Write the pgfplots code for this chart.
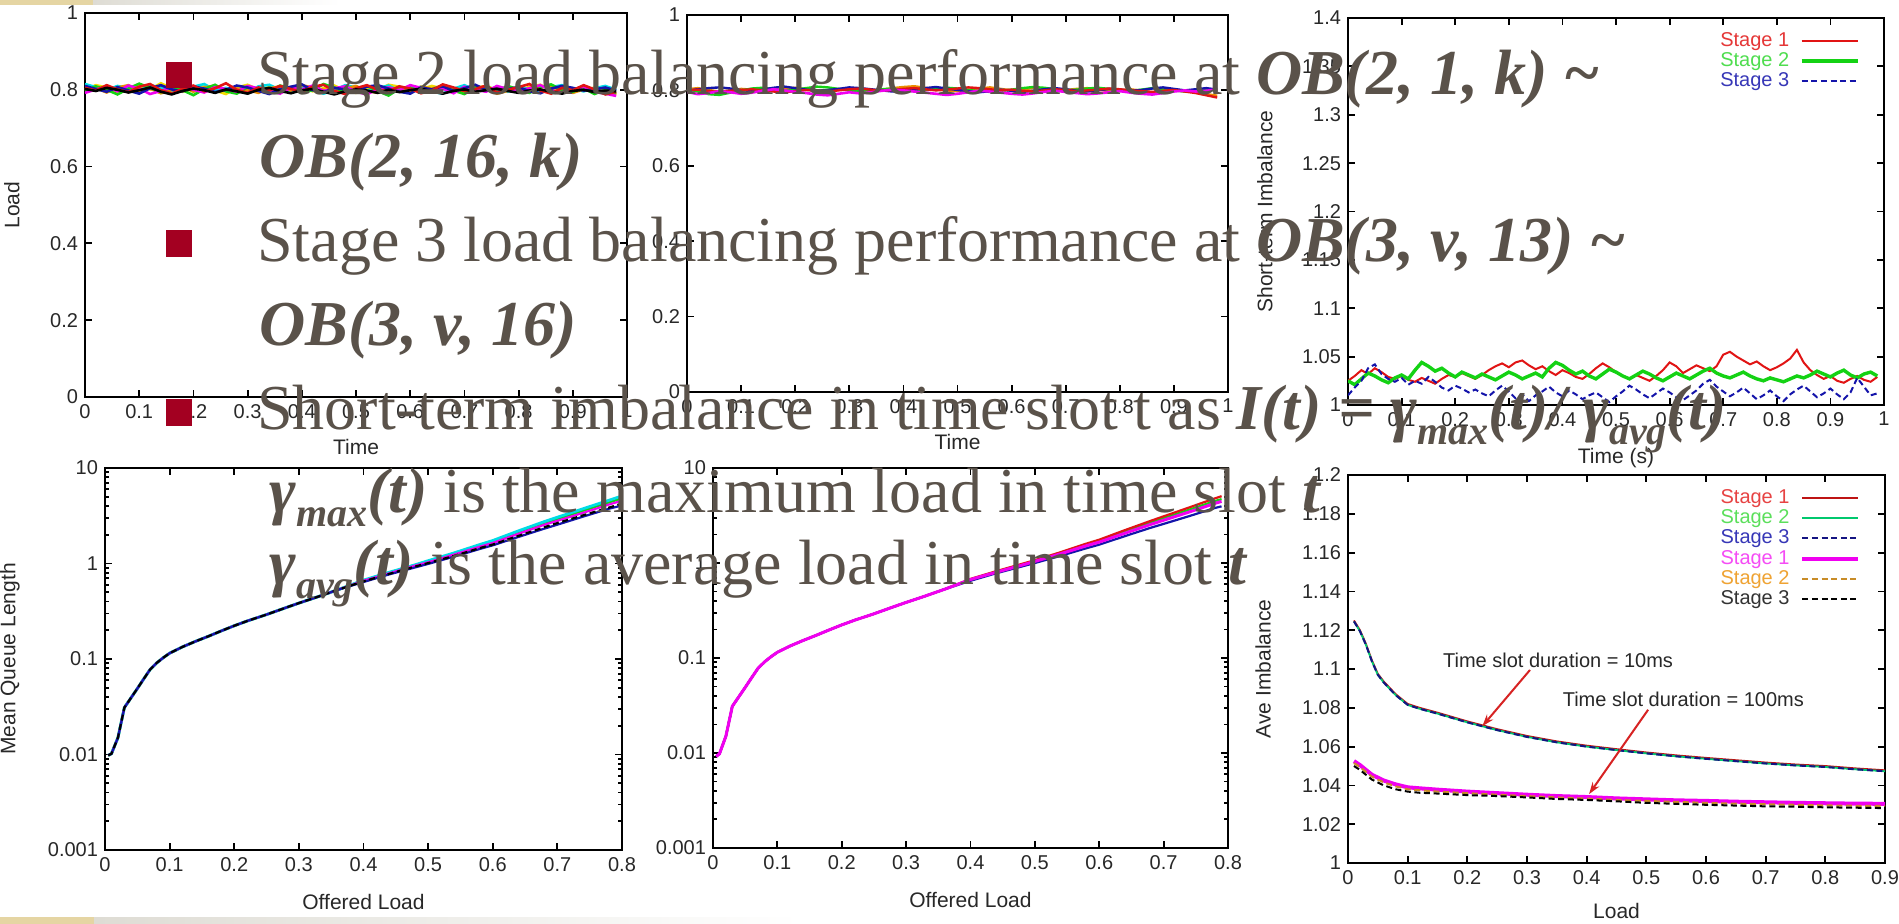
\documentclass[border=0pt]{standalone}
\usepackage{fontspec}
\setmainfont{Liberation Serif}
\setsansfont{Liberation Sans}
\usepackage{pgfplots}
\usepackage{pgfplotstable}
\pgfplotsset{compat=1.18}
\usetikzlibrary{arrows.meta}

\definecolor{txt}{RGB}{90,82,74}
\definecolor{bul}{RGB}{163,0,33}
\definecolor{beige}{RGB}{229,213,163}
\definecolor{gstrip}{RGB}{222,220,212}
\definecolor{tk}{RGB}{40,40,40}
\definecolor{gpred}{RGB}{225,20,20}
\definecolor{gpgreen}{RGB}{20,210,20}
\definecolor{gpblue}{RGB}{20,20,170}
\definecolor{gpmag}{RGB}{240,0,240}
\definecolor{gpcyan}{RGB}{0,220,230}
\definecolor{gpyellow}{RGB}{240,220,0}
\definecolor{gporange}{RGB}{235,140,0}
\definecolor{gpdred}{RGB}{190,20,20}
\definecolor{gpteal}{RGB}{0,200,110}
\definecolor{gpnavy}{RGB}{20,20,130}
\definecolor{gpbrown}{RGB}{200,140,40}
\definecolor{annred}{RGB}{215,35,35}

\newcommand\slide{\fontsize{32}{38}\selectfont}
\newcommand\sub[1]{\raisebox{-7pt}{\fontsize{20}{20}\selectfont #1}}

\pgfplotsset{
  gp/.style={scale only axis, anchor=north west, no markers,
    axis line style={line width=1pt},
    tick style={line width=0.9pt, black},
    major tick length=3.6pt, minor tick length=2pt, tick align=inside,
    tick label style={font=\sffamily\fontsize{10}{12}\selectfont, text=tk},
    label style={font=\sffamily\fontsize{10.5}{12}\selectfont, text=tk},
    /pgf/number format/assume math mode=true},
  gpleg/.style={legend plot pos=right, legend cell align=right,
    legend style={draw=none, fill=none, at={(0.966,0.977)}, anchor=north east,
      font=\sffamily\fontsize{10}{10}\selectfont, row sep=0.9pt, nodes={inner sep=0.4pt}},
    legend image code/.code={\path (0pt,0pt); \draw[##1] (5pt,0pt) -- (33pt,0pt);}},
}

% stage 2 load over time, several middle-stage ports
\pgfplotstableread{
x r g b m c y k o
0.00 .805 .797 .810 .792 .815 .800 .802 .796
0.02 .798 .809 .802 .801 .807 .812 .797 .804
0.04 .812 .800 .795 .808 .799 .806 .805 .793
0.06 .801 .788 .807 .796 .810 .794 .800 .806
0.08 .794 .803 .798 .811 .804 .799 .793 .812
0.10 .808 .816 .790 .803 .797 .809 .799 .798
0.12 .815 .805 .804 .789 .812 .801 .806 .803
0.14 .799 .794 .812 .797 .806 .817 .795 .791
0.16 .790 .808 .801 .806 .793 .804 .788 .799
0.18 .803 .799 .796 .814 .801 .795 .797 .808
0.20 .811 .786 .809 .800 .808 .803 .803 .795
0.22 .796 .802 .803 .793 .815 .810 .799 .806
0.24 .804 .813 .794 .807 .799 .798 .792 .811
0.26 .817 .796 .800 .802 .805 .789 .801 .797
0.28 .800 .790 .811 .795 .797 .806 .796 .803
0.30 .792 .807 .806 .810 .791 .813 .790 .799
0.32 .806 .801 .797 .804 .809 .801 .800 .792
0.34 .799 .795 .789 .798 .813 .807 .805 .804
0.36 .810 .811 .802 .790 .800 .795 .797 .809
0.38 .802 .804 .808 .806 .796 .800 .791 .798
0.40 .795 .792 .814 .801 .807 .808 .799 .812
0.42 .808 .799 .799 .811 .802 .796 .802 .806
0.44 .813 .815 .793 .797 .790 .804 .795 .800
0.46 .797 .806 .805 .804 .799 .811 .788 .795
0.48 .789 .793 .801 .809 .812 .798 .796 .803
0.50 .804 .801 .796 .795 .806 .792 .801 .810
0.52 .812 .810 .808 .788 .798 .805 .798 .797
0.54 .800 .797 .812 .802 .804 .800 .792 .792
0.56 .796 .785 .803 .806 .811 .813 .800 .806
0.58 .809 .803 .795 .799 .797 .808 .794 .801
0.60 .803 .808 .790 .812 .801 .795 .799 .796
0.62 .791 .794 .806 .805 .808 .802 .803 .808
0.64 .798 .800 .801 .796 .795 .810 .796 .803
0.66 .814 .812 .809 .803 .790 .803 .790 .811
0.68 .806 .798 .797 .791 .803 .797 .797 .799
0.70 .797 .789 .804 .808 .812 .791 .801 .795
0.72 .802 .806 .813 .800 .799 .805 .795 .807
0.74 .811 .803 .800 .795 .806 .810 .799 .802
0.76 .793 .796 .794 .810 .802 .799 .803 .790
0.78 .800 .810 .802 .802 .795 .803 .797 .797
0.80 .807 .801 .807 .797 .809 .796 .792 .804
0.82 .815 .792 .796 .804 .801 .808 .798 .800
0.84 .798 .807 .791 .812 .794 .813 .801 .806
0.86 .790 .814 .803 .799 .807 .800 .795 .811
0.88 .805 .799 .810 .793 .812 .795 .790 .798
0.90 .799 .795 .805 .801 .803 .802 .797 .792
0.92 .812 .804 .798 .808 .796 .797 .800 .801
0.94 .801 .789 .801 .795 .804 .806 .794 .796
0.96 .788 .800 .806 .790 .810 .799 .798 .803
0.98 .795 .792 .798 .784 .800 .805 .796 .787
}\tLoadA

% stage 3 load over time
\pgfplotstableread{
x r g b m o
0.00 .800 .801 .799 .796 .803
0.02 .802 .797 .803 .790 .806
0.04 .798 .790 .806 .793 .801
0.06 .796 .788 .808 .798 .797
0.08 .799 .794 .805 .795 .800
0.10 .801 .800 .801 .791 .804
0.12 .803 .805 .798 .794 .802
0.14 .800 .807 .802 .799 .798
0.16 .797 .803 .807 .803 .801
0.18 .795 .799 .810 .800 .804
0.20 .798 .802 .806 .796 .807
0.22 .801 .806 .802 .793 .803
0.24 .799 .810 .799 .789 .800
0.26 .797 .808 .801 .787 .797
0.28 .800 .804 .804 .791 .802
0.30 .803 .800 .808 .795 .805
0.32 .805 .797 .806 .792 .803
0.34 .802 .799 .803 .795 .799
0.36 .799 .803 .800 .799 .802
0.38 .801 .805 .797 .802 .806
0.40 .804 .801 .799 .800 .809
0.42 .806 .798 .802 .797 .811
0.44 .803 .800 .806 .794 .807
0.46 .800 .804 .809 .791 .803
0.48 .802 .807 .805 .788 .800
0.50 .805 .805 .801 .791 .798
0.52 .808 .801 .798 .795 .802
0.54 .806 .798 .795 .799 .805
0.56 .803 .796 .798 .797 .808
0.58 .800 .799 .802 .794 .804
0.60 .802 .802 .799 .791 .800
0.62 .799 .806 .796 .789 .803
0.64 .797 .809 .799 .792 .806
0.66 .800 .807 .803 .796 .803
0.68 .803 .803 .806 .799 .799
0.70 .801 .800 .803 .796 .801
0.72 .798 .802 .799 .793 .804
0.74 .800 .805 .797 .790 .806
0.76 .802 .807 .800 .792 .802
0.78 .805 .804 .804 .795 .798
0.80 .803 .801 .802 .798 .800
0.82 .800 .799 .799 .794 .803
0.84 .798 .802 .801 .791 .799
0.86 .796 .806 .805 .789 .795
0.88 .799 .804 .808 .793 .798
0.90 .801 .800 .804 .797 .802
0.92 .797 .797 .800 .800 .799
0.94 .793 .799 .803 .797 .795
0.96 .787 .801 .806 .799 .790
0.98 .781 .800 .802 .803 .786
}\tLoadB

% short-term imbalance per stage
\pgfplotstableread{
x s1 s2 s3
0 1.025 1.025 1.010
.0125 1.030 1.021 1.018
.025 1.036 1.027 1.025
.0375 1.032 1.033 1.038
.05 1.038 1.030 1.042
.0625 1.034 1.026 1.032
.075 1.029 1.023 1.027
.0875 1.027 1.028 1.024
.1 1.030 1.031 1.028
.1125 1.026 1.027 1.021
.125 1.024 1.036 1.025
.1375 1.028 1.044 1.022
.15 1.025 1.040 1.029
.1625 1.022 1.035 1.024
.175 1.027 1.038 1.018
.1875 1.031 1.033 1.015
.2 1.029 1.029 1.020
.2125 1.033 1.034 1.017
.225 1.030 1.031 1.013
.2375 1.027 1.028 1.016
.25 1.031 1.032 1.012
.2625 1.036 1.029 1.009
.275 1.040 1.026 1.015
.2875 1.043 1.030 1.020
.3 1.039 1.034 1.014
.3125 1.044 1.031 1.007
.325 1.046 1.027 1.011
.3375 1.041 1.030 1.004
.35 1.037 1.033 1.010
.3625 1.040 1.029 1.014
.375 1.035 1.038 1.019
.3875 1.031 1.044 1.013
.4 1.036 1.041 1.009
.4125 1.033 1.036 1.015
.425 1.029 1.032 1.011
.4375 1.027 1.035 1.006
.45 1.032 1.030 1.010
.4625 1.038 1.027 1.013
.475 1.043 1.032 1.008
.4875 1.039 1.037 1.003
.5 1.034 1.034 1.009
.5125 1.030 1.030 1.014
.525 1.027 1.027 1.020
.5375 1.031 1.031 1.016
.55 1.028 1.035 1.011
.5625 1.025 1.032 1.007
.575 1.030 1.028 1.012
.5875 1.036 1.025 1.017
.6 1.044 1.029 1.013
.6125 1.040 1.033 1.008
.625 1.033 1.030 1.005
.6375 1.037 1.027 1.010
.65 1.041 1.031 1.015
.6625 1.038 1.035 1.022
.675 1.035 1.038 1.026
.6875 1.040 1.033 1.019
.7 1.052 1.030 1.014
.7125 1.055 1.028 1.009
.725 1.050 1.031 1.013
.7375 1.046 1.034 1.018
.75 1.042 1.030 1.012
.7625 1.045 1.027 1.006
.775 1.040 1.025 1.010
.7875 1.036 1.028 1.015
.8 1.039 1.026 1.009
.8125 1.043 1.024 1.004
.825 1.048 1.027 1.011
.8375 1.057 1.030 1.016
.85 1.044 1.028 1.020
.8625 1.036 1.031 1.014
.875 1.031 1.035 1.008
.8875 1.027 1.032 1.012
.9 1.030 1.029 1.017
.9125 1.025 1.033 1.011
.925 1.023 1.036 1.006
.9375 1.027 1.031 1.013
.95 1.030 1.028 1.028
.9625 1.026 1.032 1.019
.975 1.024 1.034 1.010
.9875 1.029 1.030 1.012
}\tShort

% mean queue length, stage 2
\pgfplotstableread{
x bk cy gr bl rd
0.005 0.0098 0.0098 0.0098 0.0098 0.0098
0.01 0.0102 0.0102 0.0102 0.0102 0.0102
0.02 0.0150 0.0150 0.0150 0.0150 0.0150
0.03 0.031 0.031 0.031 0.031 0.031
0.04 0.039 0.039 0.039 0.039 0.039
0.05 0.049 0.049 0.049 0.049 0.049
0.06 0.062 0.062 0.062 0.062 0.062
0.07 0.078 0.078 0.078 0.078 0.078
0.08 0.091 0.091 0.091 0.091 0.091
0.09 0.103 0.103 0.103 0.103 0.103
0.10 0.115 0.115 0.115 0.115 0.115
0.12 0.134 0.134 0.134 0.134 0.134
0.14 0.153 0.153 0.153 0.153 0.153
0.16 0.173 0.173 0.173 0.173 0.173
0.18 0.197 0.197 0.197 0.197 0.197
0.20 0.223 0.223 0.223 0.223 0.223
0.22 0.250 0.250 0.250 0.250 0.250
0.25 0.292 0.292 0.292 0.292 0.292
0.28 0.345 0.345 0.345 0.345 0.345
0.30 0.385 0.385 0.385 0.385 0.385
0.33 0.45 0.45 0.45 0.45 0.45
0.36 0.53 0.53 0.53 0.53 0.53
0.40 0.65 0.67 0.66 0.64 0.66
0.44 0.78 0.81 0.80 0.77 0.79
0.48 0.93 0.97 0.96 0.91 0.95
0.50 1.01 1.07 1.05 0.99 1.03
0.54 1.20 1.29 1.27 1.18 1.24
0.58 1.45 1.58 1.55 1.42 1.50
0.60 1.58 1.74 1.70 1.55 1.64
0.64 1.95 2.20 2.12 1.90 2.05
0.68 2.40 2.75 2.65 2.32 2.55
0.70 2.65 3.05 2.95 2.55 2.80
0.74 3.20 3.75 3.60 3.10 3.40
0.78 3.85 4.60 4.40 3.75 4.15
0.80 4.25 5.10 4.85 4.05 4.55
}\tQueueA

% mean queue length, stage 3
\pgfplotstableread{
x rd mg bl gr
0.005 0.0092 0.0092 0.0092 0.0092
0.01 0.0098 0.0098 0.0098 0.0098
0.02 0.0150 0.0150 0.0150 0.0150
0.03 0.031 0.031 0.031 0.031
0.04 0.039 0.039 0.039 0.039
0.05 0.049 0.049 0.049 0.049
0.06 0.062 0.062 0.062 0.062
0.07 0.078 0.078 0.078 0.078
0.08 0.091 0.091 0.091 0.091
0.09 0.103 0.103 0.103 0.103
0.10 0.115 0.115 0.115 0.115
0.12 0.134 0.134 0.134 0.134
0.14 0.153 0.153 0.153 0.153
0.16 0.173 0.173 0.173 0.173
0.18 0.197 0.197 0.197 0.197
0.20 0.223 0.223 0.223 0.223
0.22 0.250 0.250 0.250 0.250
0.25 0.292 0.292 0.292 0.292
0.28 0.345 0.345 0.345 0.345
0.30 0.385 0.385 0.385 0.385
0.33 0.45 0.45 0.45 0.45
0.36 0.53 0.53 0.53 0.53
0.40 0.68 0.67 0.65 0.67
0.44 0.82 0.80 0.78 0.81
0.48 0.98 0.95 0.92 0.96
0.50 1.07 1.04 1.00 1.05
0.54 1.30 1.25 1.19 1.27
0.58 1.60 1.52 1.43 1.56
0.60 1.76 1.66 1.56 1.71
0.64 2.22 2.06 1.92 2.14
0.68 2.78 2.55 2.35 2.66
0.70 3.10 2.82 2.58 2.96
0.74 3.85 3.45 3.12 3.65
0.78 4.80 4.25 3.80 4.50
0.79 5.05 4.45 3.95 4.70
}\tQueueB

% average imbalance, 10 ms (a) and 100 ms (b) slots
\pgfplotstableread{
x ar ag ab bm bo bk
0.01 1.1250 1.1245 1.1245 1.0525 1.0515 1.0500
0.02 1.1200 1.1195 1.1195 1.0505 1.0495 1.0480
0.03 1.1130 1.1125 1.1125 1.0480 1.0470 1.0455
0.04 1.1045 1.1040 1.1040 1.0455 1.0445 1.0430
0.05 1.0975 1.0970 1.0970 1.0440 1.0430 1.0415
0.06 1.0935 1.0930 1.0930 1.0425 1.0415 1.0400
0.08 1.0870 1.0865 1.0865 1.0405 1.0395 1.0380
0.10 1.0820 1.0815 1.0815 1.0390 1.0380 1.0368
0.12 1.0800 1.0795 1.0795 1.0385 1.0375 1.0362
0.15 1.0775 1.0770 1.0770 1.0378 1.0368 1.0358
0.20 1.0730 1.0725 1.0725 1.0368 1.0360 1.0350
0.25 1.0690 1.0685 1.0685 1.0360 1.0352 1.0345
0.30 1.0655 1.0650 1.0650 1.0352 1.0345 1.0338
0.35 1.0627 1.0622 1.0622 1.0345 1.0338 1.0330
0.40 1.0605 1.0600 1.0600 1.0340 1.0332 1.0325
0.45 1.0587 1.0582 1.0582 1.0333 1.0325 1.0318
0.50 1.0570 1.0565 1.0565 1.0328 1.0320 1.0310
0.55 1.0555 1.0550 1.0550 1.0323 1.0315 1.0305
0.60 1.0542 1.0537 1.0537 1.0320 1.0310 1.0300
0.65 1.0530 1.0525 1.0525 1.0316 1.0306 1.0296
0.70 1.0518 1.0513 1.0513 1.0313 1.0303 1.0292
0.75 1.0508 1.0503 1.0503 1.0310 1.0300 1.0290
0.80 1.0500 1.0495 1.0495 1.0308 1.0297 1.0287
0.85 1.0488 1.0483 1.0483 1.0306 1.0295 1.0285
0.90 1.0478 1.0473 1.0473 1.0305 1.0294 1.0283
}\tAve

\begin{document}
\begin{tikzpicture}
\useasboundingbox (0,0) rectangle (949.5pt,-462pt);
\fill[white] (0,0) rectangle (949.5pt,-462pt);
% slide decoration strips
\fill[beige] (0,0) rectangle (46.5pt,-2.5pt);
\shade[left color=gstrip, right color=white] (46.5pt,0) rectangle (170pt,-2.5pt);
\fill[beige] (0,-458.5pt) rectangle (47pt,-462pt);
\shade[left color=gstrip, right color=white] (47pt,-458.5pt) rectangle (400pt,-462pt);

% top left: stage 2 load
\begin{axis}[gp, at={(42.5pt,-6.5pt)}, width=271pt, height=192pt,
  xmin=0, xmax=1, ymin=0, ymax=1,
  xtick={0,0.1,0.2,0.3,0.4,0.5,0.6,0.7,0.8,0.9,1}, ytick={0,0.2,0.4,0.6,0.8,1},
  xlabel={Time}, ylabel={Load},
  xlabel style={at={(axis description cs:0.5,-0.13)}, anchor=center},
  ylabel style={at={(axis description cs:-0.135,0.5)}, anchor=center}]
\addplot[gpyellow, line width=1.3pt] table[x=x, y=y] {\tLoadA};
\addplot[gpcyan, line width=1.3pt] table[x=x, y=c] {\tLoadA};
\addplot[gporange, line width=1.3pt] table[x=x, y=o] {\tLoadA};
\addplot[gpgreen, line width=1.3pt] table[x=x, y=g] {\tLoadA};
\addplot[gpmag, line width=1.3pt] table[x=x, y=m] {\tLoadA};
\addplot[gpblue, line width=1.3pt] table[x=x, y=b] {\tLoadA};
\addplot[gpred, line width=1.3pt] table[x=x, y=r] {\tLoadA};
\addplot[black, line width=1.3pt] table[x=x, y=k] {\tLoadA};
\end{axis}

% top middle: stage 3 load
\begin{axis}[gp, at={(343.5pt,-7.5pt)}, width=270.5pt, height=188.5pt,
  xmin=0, xmax=1, ymin=0, ymax=1,
  xtick={0,0.1,0.2,0.3,0.4,0.5,0.6,0.7,0.8,0.9,1}, ytick={0,0.2,0.4,0.6,0.8,1},
  xlabel={Time},
  xlabel style={at={(axis description cs:0.5,-0.133)}, anchor=center}]
\addplot[gporange, line width=1.2pt] table[x=x, y=o] {\tLoadB};
\addplot[gpgreen, line width=1.2pt] table[x=x, y=g] {\tLoadB};
\addplot[gpblue, line width=1.2pt] table[x=x, y=b] {\tLoadB};
\addplot[gpred, line width=1.2pt] table[x=x, y=r] {\tLoadB};
\addplot[gpmag, line width=1.3pt] table[x=x, y=m] {\tLoadB};
\end{axis}

% top right: short-term imbalance
\begin{axis}[gp, gpleg, at={(674pt,-9pt)}, width=268pt, height=193.5pt,
  xmin=0, xmax=1, ymin=1, ymax=1.4,
  xtick={0,0.1,0.2,0.3,0.4,0.5,0.6,0.7,0.8,0.9,1},
  ytick={1,1.05,1.1,1.15,1.2,1.25,1.3,1.35,1.4},
  xlabel={Time (s)}, ylabel={Short-term Imbalance},
  xlabel style={at={(axis description cs:0.5,-0.137)}, anchor=center},
  ylabel style={at={(axis description cs:-0.155,0.5)}, anchor=center}]
\addplot[gpred, line width=1pt] table[x=x, y=s1] {\tShort};
\addlegendentry{\textcolor{gpred!85}{Stage 1}}
\addplot[gpgreen, line width=1.7pt] table[x=x, y=s2] {\tShort};
\addlegendentry{\textcolor{gpgreen!75}{Stage 2}}
\addplot[gpblue, line width=1pt, dash pattern=on 3pt off 1.8pt] table[x=x, y=s3] {\tShort};
\addlegendentry{\textcolor{gpblue!85}{Stage 3}}
\end{axis}

% bottom left: mean queue length, stage 2
\begin{axis}[gp, at={(52.5pt,-234pt)}, width=258.5pt, height=191pt,
  xmin=0, xmax=0.8, ymode=log, ymin=0.001, ymax=10,
  xtick={0,0.1,0.2,0.3,0.4,0.5,0.6,0.7,0.8},
  ytick={0.001,0.01,0.1,1,10}, yticklabels={0.001,0.01,0.1,1,10},
  minor ytick={0.002,0.003,0.004,0.005,0.006,0.007,0.008,0.009,
    0.02,0.03,0.04,0.05,0.06,0.07,0.08,0.09,0.2,0.3,0.4,0.5,0.6,0.7,0.8,0.9,
    2,3,4,5,6,7,8,9},
  xlabel={Offered Load}, ylabel={Mean Queue Length},
  xlabel style={at={(axis description cs:0.5,-0.136)}, anchor=center},
  ylabel style={at={(axis description cs:-0.184,0.5)}, anchor=center}]
\addplot[gpgreen, line width=1.4pt] table[x=x, y=gr] {\tQueueA};
\addplot[gpcyan, line width=1.4pt] table[x=x, y=cy] {\tQueueA};
\addplot[gpmag, line width=1.1pt] table[x=x, y=rd] {\tQueueA};
\addplot[gpblue, line width=1.1pt] table[x=x, y=bl] {\tQueueA};
\addplot[black, line width=1.1pt, dash pattern=on 3pt off 1.8pt] table[x=x, y=bk] {\tQueueA};
\end{axis}

% bottom middle: mean queue length, stage 3
\begin{axis}[gp, at={(356.5pt,-234pt)}, width=257.5pt, height=190pt,
  xmin=0, xmax=0.8, ymode=log, ymin=0.001, ymax=10,
  xtick={0,0.1,0.2,0.3,0.4,0.5,0.6,0.7,0.8},
  ytick={0.001,0.01,0.1,1,10}, yticklabels={0.001,0.01,0.1,1,10},
  minor ytick={0.002,0.003,0.004,0.005,0.006,0.007,0.008,0.009,
    0.02,0.03,0.04,0.05,0.06,0.07,0.08,0.09,0.2,0.3,0.4,0.5,0.6,0.7,0.8,0.9,
    2,3,4,5,6,7,8,9},
  xlabel={Offered Load},
  xlabel style={at={(axis description cs:0.5,-0.137)}, anchor=center}]
\addplot[gpgreen, line width=1.1pt] table[x=x, y=gr] {\tQueueB};
\addplot[gpred, line width=1.1pt] table[x=x, y=rd] {\tQueueB};
\addplot[gpblue, line width=1.1pt] table[x=x, y=bl] {\tQueueB};
\addplot[gpmag, line width=1.5pt] table[x=x, y=mg] {\tQueueB};
\end{axis}

% bottom right: average imbalance
\begin{axis}[gp, gpleg, at={(674pt,-237.5pt)}, width=268.5pt, height=194pt,
  xmin=0, xmax=0.9, ymin=1, ymax=1.2,
  xtick={0,0.1,0.2,0.3,0.4,0.5,0.6,0.7,0.8,0.9},
  ytick={1,1.02,1.04,1.06,1.08,1.1,1.12,1.14,1.16,1.18,1.2},
  xlabel={Load}, ylabel={Ave Imbalance},
  xlabel style={at={(axis description cs:0.5,-0.124)}, anchor=center},
  ylabel style={at={(axis description cs:-0.158,0.5)}, anchor=center}]
\addplot[gpdred, line width=0.9pt] table[x=x, y=ar] {\tAve};
\addlegendentry{\textcolor{gpred!80}{Stage 1}}
\addplot[gpteal, line width=0.9pt] table[x=x, y=ag] {\tAve};
\addlegendentry{\textcolor{gpgreen!70}{Stage 2}}
\addplot[gpnavy, line width=1pt, dash pattern=on 3pt off 1.8pt] table[x=x, y=ab] {\tAve};
\addlegendentry{\textcolor{gpblue!85}{Stage 3}}
\addplot[gpmag, line width=2pt] table[x=x, y=bm] {\tAve};
\addlegendentry{\textcolor{gpmag!70}{Stage 1}}
\addplot[gpbrown, line width=1pt, dash pattern=on 3pt off 1.8pt] table[x=x, y=bo] {\tAve};
\addlegendentry{\textcolor{gporange!80}{Stage 2}}
\addplot[black, line width=1pt, dash pattern=on 3pt off 1.8pt] table[x=x, y=bk] {\tAve};
\addlegendentry{\textcolor{black!80}{Stage 3}}
\node[font=\sffamily\fontsize{10}{12}\selectfont, text=tk] at (axis cs:0.352,1.1045) {Time slot duration = 10ms};
\node[font=\sffamily\fontsize{10}{12}\selectfont, text=tk] at (axis cs:0.562,1.0845) {Time slot duration = 100ms};
\draw[annred, line width=1pt, -{Stealth[length=6pt, width=4pt]}] (axis cs:0.305,1.0995) -- (axis cs:0.225,1.0705);
\draw[annred, line width=1pt, -{Stealth[length=6pt, width=4pt]}] (axis cs:0.503,1.079) -- (axis cs:0.404,1.0355);
\end{axis}

% slide text on top of the charts
\fill[bul] (83pt,-31pt) rectangle (96pt,-44pt);
\fill[bul] (83pt,-115pt) rectangle (96pt,-128.5pt);
\fill[bul] (83pt,-199.5pt) rectangle (96pt,-213pt);
\begin{scope}[every node/.style={anchor=base west, inner sep=0pt, text=txt, font=\slide}]
\node at (128.5pt,-47.5pt) {Stage 2 load balancing performance at \textbf{\textit{OB(2, 1, k) \textasciitilde}}};
\node at (129.5pt,-89pt) {\textbf{\textit{OB(2, 16, k)}}};
\node at (128.5pt,-131pt) {Stage 3 load balancing performance at \textbf{\textit{OB(3, v, 13) \textasciitilde}}};
\node at (129.5pt,-173pt) {\textbf{\textit{OB(3, v, 16)}}};
\node at (128.5pt,-215pt) {Short-term imbalance in time slot t as \textbf{\textit{I(t) = γ\sub{max}(t)/ γ\sub{avg}(t)}}};
\node at (134.5pt,-256pt) {\textbf{\textit{γ\sub{max}(t)}} is the maximum load in time slot \textbf{\textit{t}}};
\node at (134.5pt,-292pt) {\textbf{\textit{γ\sub{avg}(t)}} is the average load in time slot \textbf{\textit{t}}};
\end{scope}
\end{tikzpicture}
\end{document}
